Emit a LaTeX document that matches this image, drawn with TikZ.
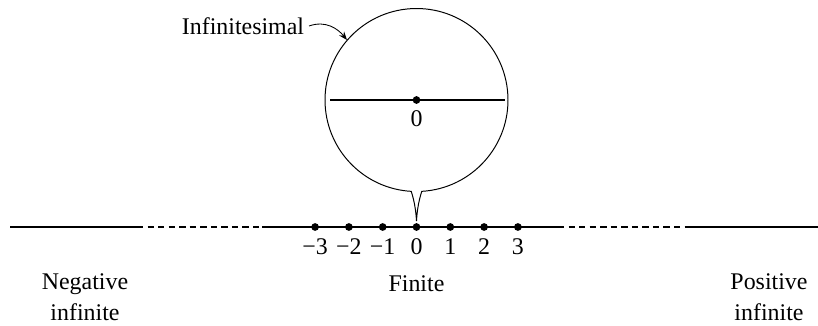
\documentclass[tikz,border=0pt]{standalone}
\usepackage{fontspec}
\setmainfont{Liberation Serif}
\usetikzlibrary{arrows.meta,positioning}

\begin{document}
\begin{tikzpicture}[
    x=0.025cm, y=0.025cm,
    every node/.style={font=\fontsize{17}{22}\selectfont},
    solidline/.style={line width=1.1pt},
    dashline/.style={line width=1.1pt, dash pattern=on 4.5pt off 3pt},
    dot/.style={circle, fill=black, inner sep=0pt, minimum size=5.5pt}
]

% Frame
\useasboundingbox (0,0) rectangle (818,325);

% Number line end points
\coordinate (left) at (10,98);
\coordinate (negA) at (137,98);
\coordinate (negB) at (262,98);
\coordinate (posB) at (558,98);
\coordinate (posA) at (688,98);
\coordinate (right) at (818,98);

\draw[solidline] (left) -- (negA);
\draw[dashline] (negA) -- (negB);
\draw[solidline] (negB) -- (posB);
\draw[dashline] (posB) -- (posA);
\draw[solidline] (posA) -- (right);

% Integer points
\foreach \k/\t in {-3/−3, -2/−2, -1/−1, 0/0, 1/1, 2/2, 3/3} {
    \node[dot] (p\k) at ({416.5+33.8*\k},98) {};
    \node[below=2pt of p\k] (n\k) {\t};
}

% Magnifier circle with its tail
\coordinate (zoomc) at (416.5,225);
\coordinate (tip) at (416.5,104);
\draw[line width=0.7pt] (zoomc) ++(-86.7:91.5)
    arc[start angle=-86.7, end angle=266.7, radius=91.5]
    .. controls (415,122) and (416,112) .. (tip)
    .. controls (417,112) and (418,122) .. cycle;

% Infinitesimal line inside
\coordinate (inL) at (330,225);
\coordinate (inR) at (505,225);
\draw[line width=1.3pt] (inL) -- (inR);
\node[dot] (z0) at (zoomc) {};
\node[below=1pt of z0] (z0lab) {0};

% Infinitesimal label and pointer
\node (inf) at (243,299) {Infinitesimal};
\coordinate (hit) at (347,285);
\draw[line width=0.6pt, -{Stealth[length=6pt, width=4.5pt]}]
    (inf.east) .. controls (326,305) and (338,296) .. (hit);

% Region labels
\node[align=center] (neg) at (85,28) {Negative\\infinite};
\node (fin) at (416.5,41) {Finite};
\node[align=center] (pos) at (769,28) {Positive\\infinite};

\end{tikzpicture}
\end{document}
